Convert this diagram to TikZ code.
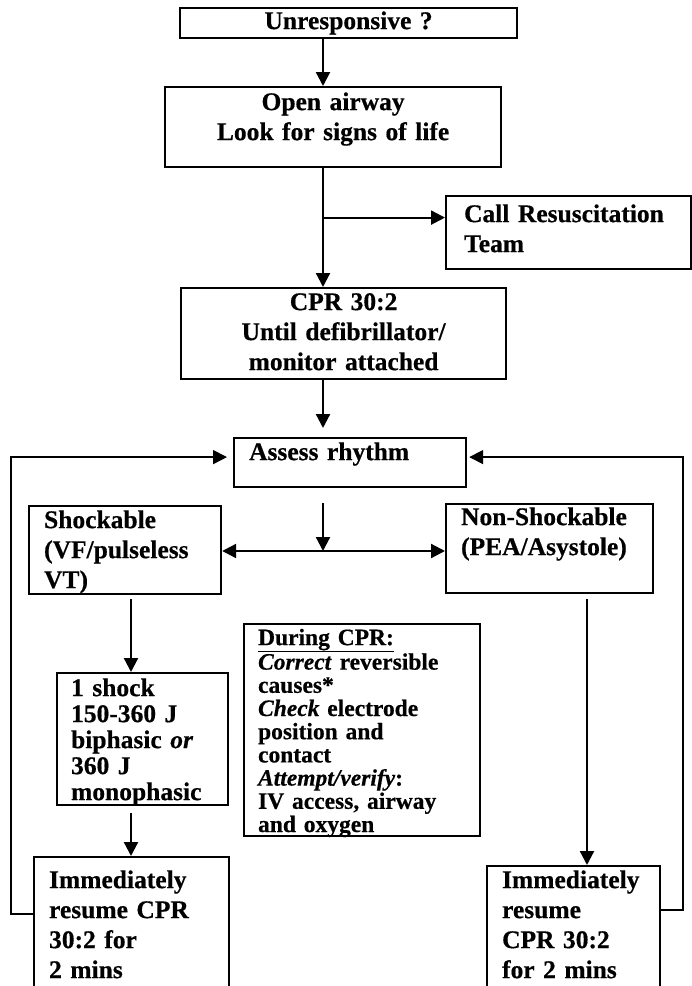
\documentclass[tikz,border=0pt]{standalone}
\usepackage{fontspec}
\setmainfont{Liberation Serif}[BoldFeatures={FakeBold=0.5}, BoldItalicFeatures={FakeBold=0.5}]
\usetikzlibrary{arrows.meta}
\tikzset{
	box/.style={draw, line width=2.2pt, anchor=north west, inner ysep=0pt, align=left, font=\bfseries\fontsize{25.5}{30}\selectfont},
	cbox/.style={box, inner xsep=0pt, align=center},
	tight/.style={font=\bfseries\fontsize{25.5}{26}\selectfont},
	arr/.style={line width=2.2pt, -{Triangle[length=14pt,width=14pt]}},
	backline/.style={line width=1.6pt, -{Triangle[length=14pt,width=14pt]}}
}

\begin{document}
\begin{tikzpicture}[x=1pt, y=-1pt]
		\useasboundingbox (0,0) rectangle (692,986);
		
		% Draw the first checks
		\node (unresp) [cbox, text width=337pt, text height=21pt, text depth=9pt] at (179,7) {Unresponsive ?};
		\node (airway) [cbox, text width=336pt, text height=23pt, text depth=57pt] at (164,86) {Open airway\\Look for signs of life};
		\node (call) [box, inner xsep=18pt, text width=209pt, text height=26pt, text depth=47pt] at (445,195) {Call Resuscitation\\Team};
		\node (cpr) [cbox, text width=325pt, text height=22pt, text depth=69pt] at (180,287) {CPR 30:2\\Until defibrillator/\\monitor attached};
		
		% Draw the rhythm check and the two branches
		\node (assess) [box, inner xsep=15pt, text width=202pt, text height=22pt, text depth=27pt] at (233,437) {Assess rhythm};
		\node (shock) [box, inner xsep=15pt, text width=162pt, text height=22pt, text depth=66pt] at (28,505) {Shockable\\(VF/pulseless\\VT)};
		\node (nonshock) [box, inner xsep=15pt, text width=177pt, text height=21pt, text depth=68pt] at (445,503) {Non-Shockable\\(PEA/Asystole)};
		
		% Draw the shock and the CPR notes
		\node (oneshock) [box, tight, inner xsep=14pt, text width=143pt, text height=23pt, text depth=109pt] at (56,672) {1 shock\\150-360 J\\biphasic \textit{or}\\360 J\\monophasic};
		\node (during) [box, font=\bfseries\fontsize{23.5}{23.2}\selectfont, inner xsep=14pt, text width=208pt, text height=21pt, text depth=191pt] at (243,623) {\underline{During CPR:}\\\textit{Correct} reversible\\causes*\\\textit{Check} electrode\\position and\\contact\\\textit{Attempt/verify}:\\IV access, airway\\and oxygen};
		
		% Draw the resume boxes
		\node (immL) [box, inner xsep=15pt, text width=165pt, text height=31pt, text depth=119pt] at (33,856) {Immediately\\resume CPR\\30:2 for\\2 mins};
		\node (immR) [box, inner xsep=15pt, text width=143pt, text height=22pt, text depth=119pt] at (486,865) {Immediately\\resume\\CPR 30:2\\for 2 mins};
		
		% Columns the connectors run along
		\coordinate (spine) at (323,0);
		\coordinate (fork) at (323,551);
		\coordinate (leftcol) at (131,0);
		\coordinate (rightcol) at (587,0);
		\coordinate (loopL) at (11,0);
		\coordinate (loopR) at (683,0);
		
		% Connect the boxes with arrows
		\draw[arr] (unresp.south -| spine) -- (airway.north -| spine);
		\draw[arr] (airway.south -| spine) -- (cpr.north -| spine);
		\draw[arr] ([yshift=15pt]call.west -| spine) -- ([yshift=15pt]call.west);
		\draw[arr] (cpr.south -| spine) -- ([yshift=9pt]assess.north -| spine);
		\draw[arr] ([yshift=-15pt]assess.south -| spine) -- (fork);
		\draw[line width=2.2pt, {Triangle[length=14pt,width=14pt]}-{Triangle[length=14pt,width=14pt]}] (shock.east |- fork) -- (nonshock.west |- fork);
		\draw[arr] ([yshift=-4pt]shock.south -| leftcol) -- (oneshock.north -| leftcol);
		\draw[arr] ([yshift=-7pt]oneshock.south -| leftcol) -- (immL.north -| leftcol);
		\draw[arr] ([yshift=-5pt]nonshock.south -| rightcol) -- (immR.north -| rightcol);
		
		% Draw the loops back to the rhythm check
		\draw[backline] ([yshift=18pt]immL.west) -- ([yshift=18pt]immL.west -| loopL) |- ([xshift=-6pt,yshift=5.5pt]assess.west);
		\draw[backline] ([yshift=26.5pt]immR.east) -- ([yshift=26.5pt]immR.east -| loopR) |- ([xshift=2pt,yshift=5.5pt]assess.east);
\end{tikzpicture}
\end{document}
